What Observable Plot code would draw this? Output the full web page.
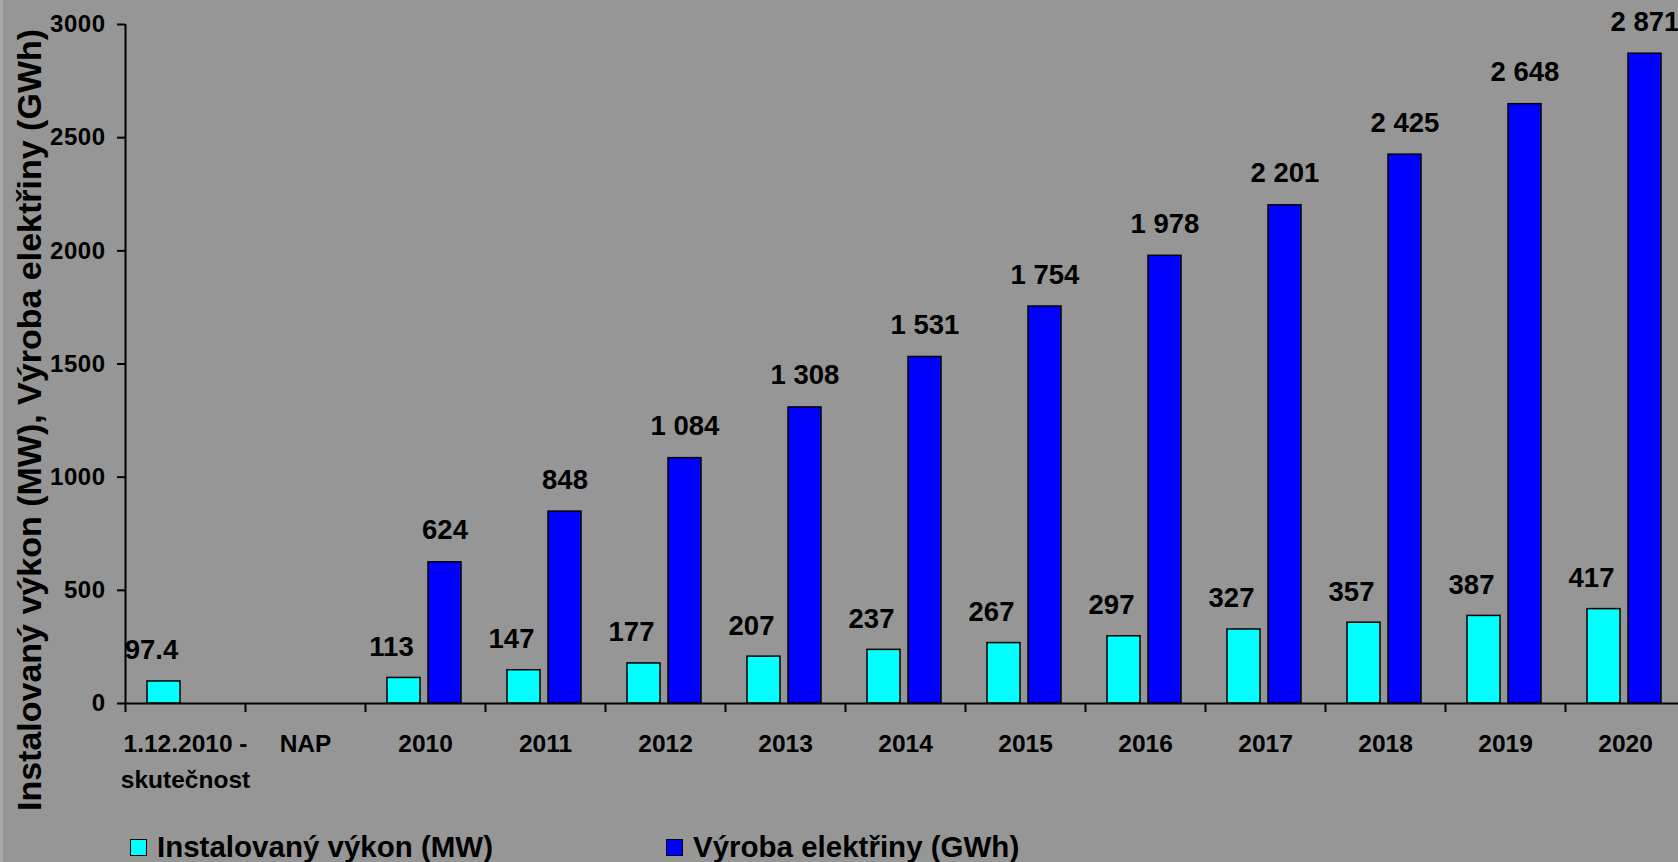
<!DOCTYPE html>
<html>
<head>
<meta charset="utf-8">
<script src="https://cdn.jsdelivr.net/npm/d3@7"></script>
<script src="https://cdn.jsdelivr.net/npm/@observablehq/plot@0.6"></script>
<style>
  html, body { margin: 0; padding: 0; background: #969696; width: 1678px; height: 862px; overflow: hidden; }
  #wrap { position: relative; width: 1678px; height: 862px; }
  #strip { position: absolute; left: 0; top: 0; width: 3px; height: 862px; background: #a8a8a8; }
  .leg { position: absolute; top: 830px; display: flex; align-items: center; font: bold 29.5px "Liberation Sans", Arial, sans-serif; color: #000; white-space: nowrap; }
  .sw { width: 17px; height: 17px; border: 1.5px solid #000; box-sizing: border-box; margin-right: 10px; }
  g[aria-label="xlab"] text { letter-spacing: 1px; }
  g[aria-label="y-axis tick label"] text { letter-spacing: 0.5px; }
</style>
</head>
<body>
<div id="wrap"><div id="strip"></div><div id="chart"></div>
  <div class="leg" style="left:130px"><div class="sw" style="background:#00FFFF"></div>Instalovaný výkon (MW)</div>
  <div class="leg" style="left:666px"><div class="sw" style="background:#0000FF"></div>Výroba elektřiny (GWh)</div>
</div>
<script>
const categories = ["1.12.2010 - skutečnost", "NAP", "2010", "2011", "2012", "2013", "2014", "2015", "2016", "2017", "2018", "2019", "2020"];
const tickLabels = ["1.12.2010 -\nskutečnost", "NAP", "2010", "2011", "2012", "2013", "2014", "2015", "2016", "2017", "2018", "2019", "2020"];
const mwValues = [97.4, null, 113, 147, 177, 207, 237, 267, 297, 327, 357, 387, 417];
const gwhValues = [null, null, 624, 848, 1084, 1308, 1531, 1754, 1978, 2201, 2425, 2648, 2871];
const yTicks = [0, 500, 1000, 1500, 2000, 2500, 3000];
const yTitle = "Instalovaný výkon (MW), Výroba elektřiny (GWh)";

const mwData = categories.map((c, i) => ({cat: c, v: mwValues[i]})).filter(d => d.v != null);
const gwhData = categories.map((c, i) => ({cat: c, v: gwhValues[i]})).filter(d => d.v != null);
const labelData = categories.map((c, i) => ({cat: c, label: tickLabels[i]}));
const fmtG = v => d3.format(",")(v).replace(/,/g, " ");

const chart = Plot.plot({
  width: 1678,
  height: 820,
  marginLeft: 125,
  marginRight: -7,
  marginTop: 24,
  marginBottom: 117,
  style: {background: "transparent", fontFamily: "'Liberation Sans', Arial, sans-serif", fontWeight: "bold", color: "#000", overflow: "visible"},
  x: {domain: categories, padding: 0, axis: null},
  y: {domain: [0, 3000], axis: null},
  marks: [
    Plot.barY(mwData, {x: "cat", y: "v", fill: "#00FFFF", stroke: "#000", strokeWidth: 1.5, insetLeft: 22, insetRight: 65}),
    Plot.barY(gwhData, {x: "cat", y: "v", fill: "#0000FF", stroke: "#000", strokeWidth: 1.5, insetLeft: 63, insetRight: 24}),
    Plot.text(mwData, {x: "cat", y: "v", text: d => String(d.v), dx: -34, dy: -22, lineAnchor: "bottom", fontSize: 27.5, fill: "#000"}),
    Plot.text(gwhData, {x: "cat", y: "v", text: d => fmtG(d.v), dx: 19.5, dy: -23, lineAnchor: "bottom", fontSize: 27.5, fill: "#000"}),
    Plot.ruleY([0], {stroke: "#000", strokeWidth: 2}),
    Plot.ruleX(categories, {x: d => d, dx: -60, y1: 0, y2: -40, stroke: "#000", strokeWidth: 2}),
    Plot.ruleX([categories[0]], {x: d => d, dx: -60, y1: 0, y2: 3000, stroke: "#000", strokeWidth: 2}),
    Plot.axisY({ticks: yTicks, tickSize: 8, tickPadding: 12, fontSize: 24, strokeWidth: 2, label: null, tickFormat: d => String(d)}),
    Plot.text(labelData, {x: "cat", y: 0, text: "label", lineAnchor: "top", dy: 22, fontSize: 24.5, lineHeight: 1.5, fill: "#000", ariaLabel: "xlab"}),
    Plot.text([yTitle], {frameAnchor: "left", rotate: -90, dx: -95, dy: 56, fontSize: 34, textAnchor: "middle", lineAnchor: "middle", fill: "#000"})
  ]
});
document.getElementById("chart").appendChild(chart);
</script>
</body>
</html>
